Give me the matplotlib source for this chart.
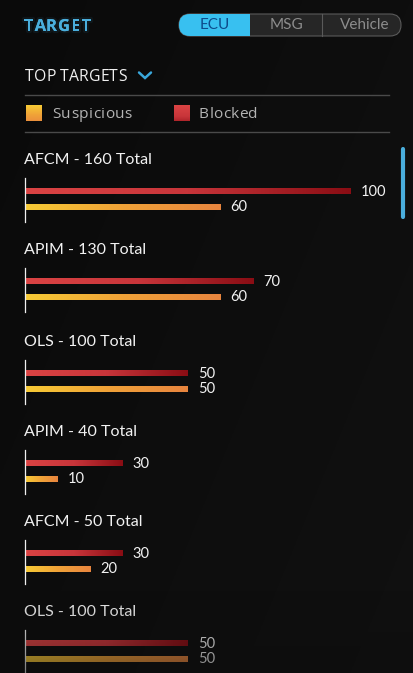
import numpy as np
import matplotlib
matplotlib.use("Agg")
import matplotlib.pyplot as plt
from matplotlib.colors import LinearSegmentedColormap
from matplotlib.patches import FancyBboxPatch, Rectangle
from matplotlib.font_manager import FontProperties
from matplotlib.textpath import text_to_path
import matplotlib.patheffects as pe

# ---- data ----
names = ["AFCM", "APIM", "OLS", "APIM", "AFCM", "OLS"]
totals = [160, 130, 100, 40, 50, 100]
blocked = [100, 70, 50, 30, 30, 50]
suspicious = [60, 60, 50, 10, 20, 50]
tabs = ["ECU", "MSG", "Vehicle"]
legend_labels = ["Suspicious", "Blocked"]

W, H = 414, 673
BG = "#0b0b0b"
FONT = "Lato"
WIDE = "Open Sans"

red_cmap = LinearSegmentedColormap.from_list("red", ["#db4444", "#c8353a", "#8a0d14"])
yel_cmap = LinearSegmentedColormap.from_list("yel", ["#f7cb35", "#f0a238", "#e8853f"])

fig = plt.figure(figsize=(W / 100, H / 100), dpi=100, facecolor=BG)

bg = fig.add_axes([0, 0, 1, 1])
bg.set_xlim(0, W)
bg.set_ylim(H, 0)
bg.axis("off")
bg.set_facecolor(BG)
gy, gx = np.mgrid[0:1:200j, 0:1:200j]
shade = 0.040 + 0.025 * (gx * 0.6 + gy * 0.4)
bg.imshow(np.dstack([shade, shade, shade]), extent=(0, W, H, 0), aspect="auto", zorder=0)


def spaced_text(ax, x, y, s, width_px, size, family, weight="normal", **kw):
    """Draw text (baseline at y) with letter spacing so that it spans width_px pixels."""
    prop = FontProperties(family=family, size=size, weight=weight)
    pos = []
    for k in range(len(s)):
        w = text_to_path.get_text_width_height_descent(s[:k], prop, ismath=False)[0] if k else 0
        pos.append(w * 100 / 72)
    last_w = text_to_path.get_text_width_height_descent(s[-1], prop, ismath=False)[0] * 100 / 72
    natural = pos[-1] + last_w
    sp = (width_px - natural) / max(len(s) - 1, 1)
    for k, ch in enumerate(s):
        ax.text(x + pos[k] + k * sp, y, ch, fontproperties=prop, ha="left", va="baseline", **kw)


# header title
spaced_text(bg, 24, 31, "TARGET", 67, 12, WIDE, weight="bold", color="#4aaedc", zorder=3,
            path_effects=[pe.withStroke(linewidth=3, foreground="#4aaedc", alpha=0.08), pe.Normal()])

# toggle control
x0, x1, y0, y1 = 179, 401, 14, 36
pill = FancyBboxPatch((x0, y0), x1 - x0, y1 - y0, boxstyle="round,pad=0,rounding_size=11",
                      fc="#262626", ec="#5a5a5a", lw=0.8, zorder=2)
bg.add_patch(pill)
seg_edges = [x0, 250.5, 322, x1]
blue = FancyBboxPatch((x0, y0), x1 - x0, y1 - y0, boxstyle="round,pad=0,rounding_size=11",
                      fc="#38c0f0", ec="none", zorder=3)
bg.add_patch(blue)
clip = Rectangle((x0, y0 - 1), seg_edges[1] - x0, y1 - y0 + 2, transform=bg.transData)
blue.set_clip_path(clip)
bg.plot([seg_edges[2], seg_edges[2]], [y0, y1], color="#5a5a5a", lw=0.8, zorder=3)
for i, t in enumerate(tabs):
    cx = (seg_edges[i] + seg_edges[i + 1]) / 2
    bg.text(cx + (3 if i == 2 else 0), 25, t, color="#0d4c8c" if i == 0 else "#8c8c8c",
            fontsize=11, family=FONT, ha="center", va="center", zorder=4)

# top targets header
spaced_text(bg, 25, 81, "TOP TARGETS", 101.5, 11.3, WIDE, color="#f0f0f0", zorder=3)
bg.plot([139, 145, 151], [72.5, 78, 72.5], color="#3aa8dc", lw=1.8, solid_capstyle="round",
        solid_joinstyle="miter", zorder=3)
bg.plot([25, 389], [94.5, 94.5], color="#4a4a4a", lw=1, zorder=2)
bg.plot([25, 389], [131.5, 131.5], color="#4a4a4a", lw=1, zorder=2)

# legend
sq = np.linspace(0, 1, 50)[:, None]
bg.imshow(yel_cmap(np.repeat(sq * 0.8, 2, axis=1)), extent=(26, 42, 121, 105), aspect="auto", zorder=3)
bg.imshow(red_cmap(np.repeat(sq * 0.7, 2, axis=1)), extent=(174, 190, 121, 105), aspect="auto", zorder=3)
spaced_text(bg, 52, 118, legend_labels[0], 80, 11.1, WIDE, color="#b4b4b4", zorder=3)
spaced_text(bg, 199, 118, legend_labels[1], 58, 11.1, WIDE, color="#b4b4b4", zorder=3)

# scrollbar
bg.plot([403.5, 403.5], [149, 217], color="#4aaedc", lw=3, solid_capstyle="round", zorder=3)

# groups
title_y = [159.5, 250.5, 341.5, 432.5, 522.5, 611.5]
px_per_unit = 3.26
grad = np.linspace(0, 1, 256)[None, :]
for i in range(len(names)):
    ty = title_y[i]
    bg.text(24, ty, f"{names[i]} - {totals[i]} Total", color="#f2f2f2", fontsize=11.5,
            family=FONT, ha="left", va="center", zorder=3)
    top = round(ty) + 18
    hgt = 44
    ax = fig.add_axes([25 / W, 1 - (top + hgt) / H, 100 * px_per_unit / W, hgt / H])
    ax.set_facecolor("none")
    for s in ["top", "right", "bottom"]:
        ax.spines[s].set_visible(False)
    ax.spines["left"].set_color("#f0f0f0")
    ax.spines["left"].set_linewidth(0.9)
    ax.set_xticks([])
    ax.set_yticks([])
    vals = [blocked[i], suspicious[i]]
    cmaps = [red_cmap, yel_cmap]
    bars = ax.barh([0, 1], vals, height=0.34, color="none", edgecolor="none")
    for j, (b, v) in enumerate(zip(bars, vals)):
        ax.imshow(grad, cmap=cmaps[j], aspect="auto",
                  extent=(0, v, b.get_y() + b.get_height(), b.get_y()), clip_path=b, zorder=2)
        ax.annotate(str(v), (v, j), xytext=(7, 0), textcoords="offset points", color="#f2f2f2",
                    fontsize=10.5, family=FONT, ha="left", va="center", annotation_clip=False)
    ax.set_xlim(0, 100)
    ax.set_ylim(1.97, -0.9)

# fade overlay at the bottom
ov = fig.add_axes([0, 0, 1, 1])
ov.set_xlim(0, W)
ov.set_ylim(H, 0)
ov.axis("off")
ov.patch.set_alpha(0)
fade = np.zeros((100, 2, 4))
fade[..., :3] = 0.05
fade[..., 3] = np.linspace(0, 0.5, 100)[:, None]
ov.imshow(fade, extent=(0, W, H, 590), aspect="auto")

fig.savefig("out.png", dpi=100, facecolor=BG)
